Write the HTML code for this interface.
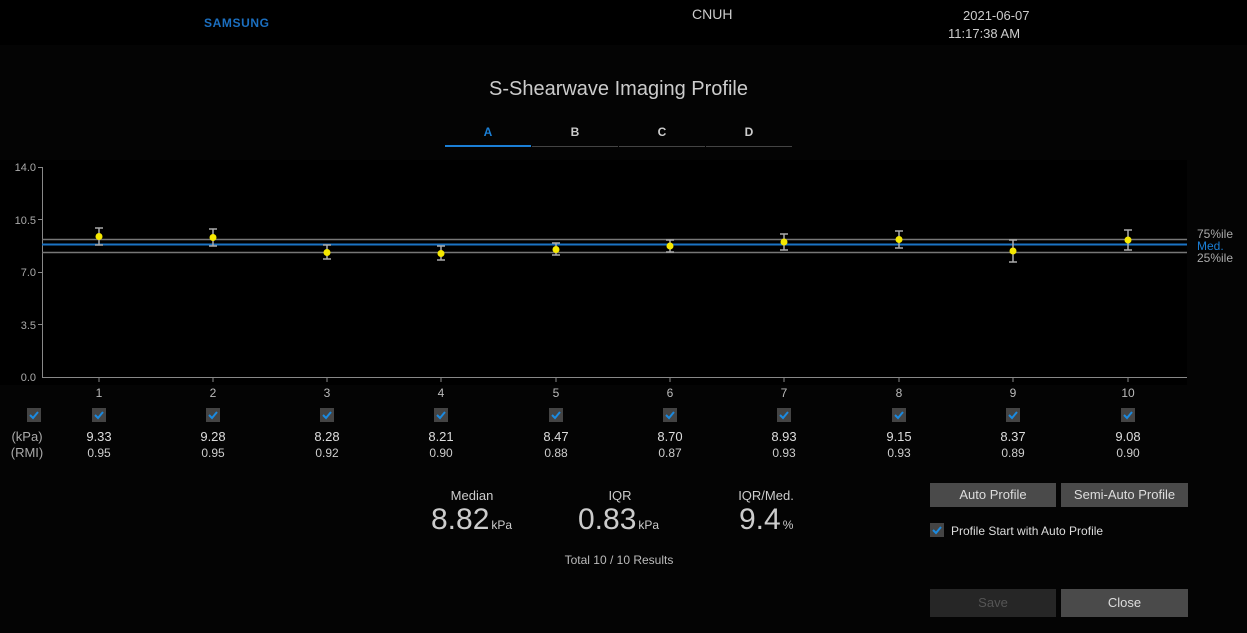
<!DOCTYPE html>
<html><head><meta charset="utf-8"><style>
html,body{margin:0;padding:0;width:1247px;height:633px;background:#040404;overflow:hidden;font-family:"Liberation Sans",sans-serif;color:#ccc}
.abs{position:absolute}
.btn{position:absolute;background:#4a4a4a;color:#ddd;font-size:13px;text-align:center;line-height:24px;height:24px}
</style></head><body>
<div class="abs" style="left:0;top:0;width:1247px;height:45px;background:#000"></div>
<div class="abs" style="left:204px;top:16px;font-size:12px;font-weight:bold;color:#1b6fc0;letter-spacing:0.6px">SAMSUNG</div>
<div class="abs" style="left:692px;top:6px;font-size:14px;color:#ccc">CNUH</div>
<div class="abs" style="left:963px;top:8px;font-size:13px;color:#ccc">2021-06-07</div>
<div class="abs" style="left:948px;top:26px;font-size:13px;color:#ccc">11:17:38 AM</div>
<div class="abs" style="left:0;top:78px;width:1237px;text-align:center;font-size:20px;color:#ccc">S-Shearwave Imaging Profile</div>
<div class="abs" style="left:445px;top:125px;width:86px;text-align:center;font-size:12px;font-weight:bold;color:#1b7fd6">A</div>
<div class="abs" style="left:532px;top:125px;width:86px;text-align:center;font-size:12px;font-weight:bold;color:#ccc">B</div>
<div class="abs" style="left:619px;top:125px;width:86px;text-align:center;font-size:12px;font-weight:bold;color:#ccc">C</div>
<div class="abs" style="left:706px;top:125px;width:86px;text-align:center;font-size:12px;font-weight:bold;color:#ccc">D</div>
<div class="abs" style="left:445px;top:145px;width:86px;height:2px;background:#1b7fd6"></div>
<div class="abs" style="left:532px;top:146px;width:86px;height:1px;background:#444"></div>
<div class="abs" style="left:619px;top:146px;width:86px;height:1px;background:#444"></div>
<div class="abs" style="left:706px;top:146px;width:86px;height:1px;background:#444"></div>

<svg class="abs" style="left:0;top:0" width="1247" height="633" font-family="Liberation Sans, sans-serif">
<rect x="0" y="160" width="1187" height="225" fill="#000"/>
<g stroke="#888" stroke-width="1">
<line x1="42.5" y1="167" x2="42.5" y2="377.5"/>
<line x1="42" y1="377.5" x2="1187" y2="377.5"/>
<line x1="38" y1="167.5" x2="42" y2="167.5"/><line x1="38" y1="219.5" x2="42" y2="219.5"/><line x1="38" y1="272.5" x2="42" y2="272.5"/><line x1="38" y1="324.5" x2="42" y2="324.5"/>
</g>
<g fill="#aaa" font-size="11" text-anchor="end">
<text x="36" y="171">14.0</text><text x="36" y="224">10.5</text><text x="36" y="276">7.0</text><text x="36" y="329">3.5</text><text x="36" y="381">0.0</text>
</g>
<line x1="42" y1="239.5" x2="1187" y2="239.5" stroke="#777" stroke-width="1.5"/>
<line x1="42" y1="244.5" x2="1187" y2="244.5" stroke="#1b73c4" stroke-width="2"/>
<line x1="42" y1="252.5" x2="1187" y2="252.5" stroke="#777" stroke-width="1.5"/>
<g font-size="12" fill="#aaa"><text x="1197" y="238">75%ile</text><text x="1197" y="250" fill="#1b7fd6">Med.</text><text x="1197" y="262">25%ile</text></g>
<g stroke="#aaa" stroke-width="1.5" fill="#f5e800">
<path d="M99 228V245M95 228H103M95 245H103"/><circle cx="99" cy="236.5" r="3.5" stroke="none"/>
<path d="M213 229V246M209 229H217M209 246H217"/><circle cx="213" cy="237.5" r="3.5" stroke="none"/>
<path d="M327 245V259M323 245H331M323 259H331"/><circle cx="327" cy="252.5" r="3.5" stroke="none"/>
<path d="M441 246V260M437 246H445M437 260H445"/><circle cx="441" cy="253.5" r="3.5" stroke="none"/>
<path d="M556 243V255M552 243H560M552 255H560"/><circle cx="556" cy="249.5" r="3.5" stroke="none"/>
<path d="M670 240V252M666 240H674M666 252H674"/><circle cx="670" cy="246" r="3.5" stroke="none"/>
<path d="M784 234V250M780 234H788M780 250H788"/><circle cx="784" cy="242" r="3.5" stroke="none"/>
<path d="M899 231V248M895 231H903M895 248H903"/><circle cx="899" cy="239.5" r="3.5" stroke="none"/>
<path d="M1013 240V262M1009 240H1017M1009 262H1017"/><circle cx="1013" cy="251" r="3.5" stroke="none"/>
<path d="M1128 230V250M1124 230H1132M1124 250H1132"/><circle cx="1128" cy="240" r="3.5" stroke="none"/>
</g>
<g stroke="#888"><line x1="99" y1="378" x2="99" y2="382"/><line x1="213" y1="378" x2="213" y2="382"/><line x1="327" y1="378" x2="327" y2="382"/><line x1="441" y1="378" x2="441" y2="382"/><line x1="556" y1="378" x2="556" y2="382"/><line x1="670" y1="378" x2="670" y2="382"/><line x1="784" y1="378" x2="784" y2="382"/><line x1="899" y1="378" x2="899" y2="382"/><line x1="1013" y1="378" x2="1013" y2="382"/><line x1="1128" y1="378" x2="1128" y2="382"/></g>
<g fill="#bbb" font-size="12" text-anchor="middle">
<text x="99" y="397">1</text><text x="213" y="397">2</text><text x="327" y="397">3</text><text x="441" y="397">4</text><text x="556" y="397">5</text><text x="670" y="397">6</text><text x="784" y="397">7</text><text x="899" y="397">8</text><text x="1013" y="397">9</text><text x="1128" y="397">10</text>
</g>
<defs><g id="cb"><rect x="-7" y="-7" width="14" height="14" fill="#444"/><path d="M-4 0L-1 3L4 -3" stroke="#1b8ae0" stroke-width="2" fill="none"/></g></defs>
<use href="#cb" x="34" y="415"/><use href="#cb" x="99" y="415"/><use href="#cb" x="213" y="415"/><use href="#cb" x="327" y="415"/><use href="#cb" x="441" y="415"/><use href="#cb" x="556" y="415"/><use href="#cb" x="670" y="415"/><use href="#cb" x="784" y="415"/><use href="#cb" x="899" y="415"/><use href="#cb" x="1013" y="415"/><use href="#cb" x="1128" y="415"/>
<use href="#cb" x="937" y="530"/>
<g fill="#aaa" font-size="13" text-anchor="middle"><text x="27" y="441">(kPa)</text><text x="27" y="457">(RMI)</text></g>
<g fill="#ddd" font-size="13" text-anchor="middle">
<text x="99" y="441">9.33</text><text x="213" y="441">9.28</text><text x="327" y="441">8.28</text><text x="441" y="441">8.21</text><text x="556" y="441">8.47</text><text x="670" y="441">8.70</text><text x="784" y="441">8.93</text><text x="899" y="441">9.15</text><text x="1013" y="441">8.37</text><text x="1128" y="441">9.08</text>
</g>
<g fill="#ccc" font-size="12" text-anchor="middle">
<text x="99" y="457">0.95</text><text x="213" y="457">0.95</text><text x="327" y="457">0.92</text><text x="441" y="457">0.90</text><text x="556" y="457">0.88</text><text x="670" y="457">0.87</text><text x="784" y="457">0.93</text><text x="899" y="457">0.93</text><text x="1013" y="457">0.89</text><text x="1128" y="457">0.90</text>
</g>
<g fill="#ccc" text-anchor="middle" font-size="13">
<text x="472" y="500">Median</text><text x="620" y="500">IQR</text><text x="766" y="500">IQR/Med.</text>
</g>
<g fill="#ccc" font-size="30">
<text x="431" y="529">8.82<tspan font-size="12" dx="2">kPa</tspan></text>
<text x="578" y="529">0.83<tspan font-size="12" dx="2">kPa</tspan></text>
<text x="739" y="529">9.4<tspan font-size="12" dx="2">%</tspan></text>
</g>
<text x="619" y="564" fill="#bbb" font-size="12" text-anchor="middle">Total 10 / 10 Results</text>
<text x="951" y="535" fill="#ddd" font-size="12">Profile Start with Auto Profile</text>
</svg>
<div class="btn" style="left:930px;top:483px;width:126px">Auto Profile</div>
<div class="btn" style="left:1061px;top:483px;width:127px">Semi-Auto Profile</div>
<div class="btn" style="left:930px;top:589px;width:126px;height:28px;line-height:28px;background:#262626;color:#555">Save</div>
<div class="btn" style="left:1061px;top:589px;width:127px;height:28px;line-height:28px">Close</div>
</body></html>
